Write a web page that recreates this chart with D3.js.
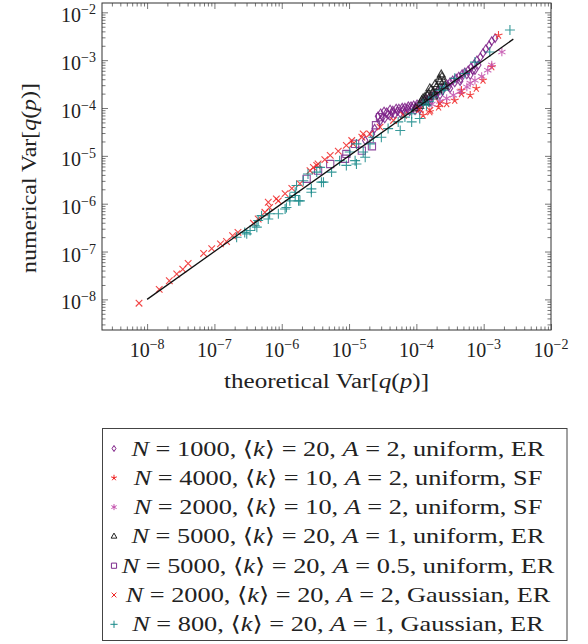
<!DOCTYPE html>
<html>
<head>
<meta charset="utf-8">
<script src="https://cdn.jsdelivr.net/npm/d3@7"></script>
<style>
  body { margin: 0; background: #fff; }
  text { font-family: "Liberation Serif", "DejaVu Serif", serif; fill: #222; }
</style>
</head>
<body>
<svg id="chart" width="588" height="644"></svg>
<script>
// all values are log10 of [theoretical Var, numerical Var]
var diamondN1000 = [
  [-4.76,-4.68],[-4.66,-4.55],[-4.62,-4.43],
  [-4.57,-4.17],[-4.53,-4.11],[-4.48,-4.07],[-4.44,-4.09],[-4.39,-4.03],[-4.35,-4.05],[-4.30,-4.01],
  [-4.26,-4.01],[-4.21,-3.99],[-4.17,-3.99],[-4.12,-3.96],[-4.08,-3.96],[-4.04,-3.94],[-3.99,-3.92],[-3.95,-3.92],
  [-4.54,-4.28],[-4.47,-4.22],[-4.39,-4.17],[-4.32,-4.13],[-4.24,-4.11],[-4.17,-4.09],[-4.10,-4.07],[-4.02,-4.05],[-3.95,-4.03],
  [-4.50,-4.19],[-4.42,-4.14],[-4.36,-4.10],[-4.28,-4.07],[-4.20,-4.04],[-4.13,-4.02],[-4.06,-4.00],[-4.00,-3.98],
  [-3.90,-3.88],[-3.86,-3.82],[-3.81,-3.78],[-3.77,-3.75],[-3.72,-3.69],[-3.68,-3.65],[-3.63,-3.59],[-3.59,-3.55],
  [-3.55,-3.50],[-3.50,-3.46],[-3.46,-3.42],[-3.41,-3.38],[-3.37,-3.34],[-3.32,-3.29],[-3.28,-3.25],[-3.23,-3.21],
  [-3.19,-3.15],[-3.14,-3.08],[-3.10,-3.00],[-3.05,-2.94],[-3.01,-2.85],[-2.97,-2.77],[-2.92,-2.69],[-2.88,-2.60],[-2.83,-2.54],
  [-3.88,-3.84],[-3.79,-3.80],[-3.70,-3.72],[-3.61,-3.64],[-3.52,-3.55],[-3.43,-3.47],[-3.34,-3.39],[-3.25,-3.30],
  [-3.16,-3.21],[-3.08,-3.10],
  [-3.80,-3.88],[-3.65,-3.73],[-3.50,-3.59],[-3.35,-3.44],[-3.20,-3.31],[-3.13,-3.21]
];
var starN4000 = [
  [-2.78,-2.48],[-2.88,-3.14],[-3.01,-3.42],[-3.11,-3.59],[-3.20,-3.73],[-3.33,-3.63],[-3.33,-3.70],
  [-3.43,-3.84],[-3.55,-3.91],[-3.67,-3.98],[-3.80,-4.08],[-3.90,-4.15]
];
var asteriskN2000 = [
  [-2.73,-2.83],[-2.88,-3.10],[-2.94,-3.21],[-3.03,-3.34],[-3.13,-3.42],[-3.20,-3.48],[-3.25,-3.56],
  [-3.35,-3.66],[-3.45,-3.73],[-3.55,-3.80],[-3.65,-3.86],[-3.77,-3.92]
];
var triangleN5000 = [
  [-3.62,-3.35],[-3.65,-3.45],[-3.60,-3.45],[-3.70,-3.56],[-3.58,-3.55],[-3.68,-3.63],[-3.75,-3.66],[-3.80,-3.59],
  [-3.82,-3.70],[-3.74,-3.76],[-3.87,-3.77],[-3.92,-3.84],[-3.86,-3.88],[-3.95,-3.96],[-4.01,-4.01],
  [-3.63,-3.30],[-3.66,-3.40],[-3.72,-3.50],[-3.78,-3.62],[-3.84,-3.74],[-3.90,-3.80]
];
var squareN5000 = [
  [-5.63,-5.48],[-5.46,-5.31],[-5.28,-5.17],[-5.06,-5.06],[-5.04,-4.96],[-4.91,-4.75],[-4.81,-4.89],
  [-4.66,-4.80],[-4.60,-4.36],[-4.54,-4.19]
];
var crossN2000 = [
  [-8.12,-8.08],[-7.82,-7.79],[-7.67,-7.61],[-7.56,-7.47],[-7.47,-7.37],[-7.39,-7.25],[-7.16,-7.04],[-7.04,-6.94],
  [-6.91,-6.84],[-6.82,-6.79],[-6.73,-6.67],[-6.65,-6.60],[-6.42,-6.41],[-6.35,-6.32],[-6.25,-6.18],[-6.20,-5.97],
  [-6.18,-6.08],[-6.08,-5.90],[-6.05,-5.94],[-5.95,-5.79],[-5.85,-5.68],[-5.73,-5.58],[-5.58,-5.31],[-5.53,-5.24],
  [-5.48,-5.20],[-5.46,-5.17],[-5.36,-5.08],[-5.28,-4.99],[-5.16,-4.90],[-5.04,-4.78],[-4.96,-4.68],[-4.94,-4.75],
  [-4.81,-4.61],[-4.79,-4.54],[-4.69,-4.54],[-4.54,-4.40],[-4.34,-4.26],[-4.19,-4.15],[-3.95,-4.03],[-3.80,-4.05],[-3.65,-3.91]
];
var plusN800 = [
  [-6.67,-6.70],[-6.55,-6.60],[-6.52,-6.63],[-6.47,-6.56],[-6.40,-6.46],[-6.37,-6.49],[-6.35,-6.35],[-6.30,-6.25],
  [-6.20,-6.32],[-6.18,-6.21],[-6.05,-6.21],[-5.95,-6.11],[-5.93,-6.08],[-5.88,-5.87],[-5.88,-5.94],[-5.80,-5.76],
  [-5.80,-5.83],[-5.78,-5.62],[-5.75,-5.94],[-5.73,-5.94],[-5.68,-5.52],[-5.61,-5.38],[-5.56,-5.69],[-5.56,-5.76],
  [-5.48,-5.34],[-5.41,-5.55],[-5.43,-5.24],[-5.38,-5.55],[-5.26,-5.34],[-5.14,-5.10],[-5.04,-5.20],[-4.99,-4.92],
  [-4.91,-5.10],[-4.89,-4.75],[-4.89,-5.17],[-4.79,-4.92],[-4.76,-5.03],[-4.69,-4.75],[-4.64,-4.61],[-4.52,-4.61],
  [-4.42,-4.43],[-4.24,-4.47],[-4.27,-4.29],[-4.17,-4.19],[-4.07,-4.12],[-4.07,-4.29],[-3.95,-4.22],[-3.90,-3.91],
  [-3.85,-3.94],[-3.82,-3.87],[-3.75,-3.77],[-3.65,-3.63],[-3.60,-3.63],[-3.58,-3.56],[-3.43,-3.38],[-3.28,-3.28],
  [-3.13,-3.04],[-2.91,-2.83],[-2.61,-2.37]
];
// theory line numerical = theoretical
var theoryLine = [[-8.0,-8.0],[-2.56,-2.56]];

var xDecades = [-8,-7,-6,-5,-4,-3,-2];
var yDecades = [-8,-7,-6,-5,-4,-3,-2];

// legend rows: [N, <k>, A, distribution, network]
var legendRows = [
  ["1000","20","2","uniform","ER"],
  ["4000","10","2","uniform","SF"],
  ["2000","10","2","uniform","SF"],
  ["5000","20","1","uniform","ER"],
  ["5000","20","0.5","uniform","ER"],
  ["2000","20","2","Gaussian","ER"],
  ["800","20","1","Gaussian","ER"]
];

var series = [
  { data: diamondN1000, shape: "diamond", color: "#7d1d86" },
  { data: starN4000, shape: "star", color: "#f02424" },
  { data: asteriskN2000, shape: "asterisk", color: "#c24dab" },
  { data: triangleN5000, shape: "triangle", color: "#1e1e1e" },
  { data: squareN5000, shape: "square", color: "#7d2a8d" },
  { data: crossN2000, shape: "cross", color: "#f02424" },
  { data: plusN800, shape: "plus", color: "#158888" }
];

function markerPath(shape, s) {
  var p = d3.path();
  if (shape == "diamond") {
    p.moveTo(0,-4.2*s); p.lineTo(2.7*s,0); p.lineTo(0,4.2*s); p.lineTo(-2.7*s,0); p.closePath();
  } else if (shape == "star") {
    for (var k = 0; k < 5; k++) {
      var a = (-90 + 72*k) * Math.PI/180;
      p.moveTo(0,0); p.lineTo(4.2*s*Math.cos(a), 4.2*s*Math.sin(a));
    }
  } else if (shape == "asterisk") {
    for (var k = 0; k < 3; k++) {
      var a = (90 + 60*k) * Math.PI/180;
      p.moveTo(-4.2*s*Math.cos(a), -4.2*s*Math.sin(a)); p.lineTo(4.2*s*Math.cos(a), 4.2*s*Math.sin(a));
    }
  } else if (shape == "triangle") {
    p.moveTo(0,-4.6*s); p.lineTo(4*s,2.4*s); p.lineTo(-4*s,2.4*s); p.closePath();
  } else if (shape == "square") {
    p.rect(-3.6*s,-3.6*s,7.2*s,7.2*s);
  } else if (shape == "cross") {
    p.moveTo(-3.3*s,-3.3*s); p.lineTo(3.3*s,3.3*s); p.moveTo(-3.3*s,3.3*s); p.lineTo(3.3*s,-3.3*s);
  } else {
    p.moveTo(-5*s,0); p.lineTo(5*s,0); p.moveTo(0,-5*s); p.lineTo(0,5*s);
  }
  return p.toString();
}

// stretch text horizontally (the TeX font is wider than the local serif)
function stretch(t, factor) {
  var w = t.node().getComputedTextLength();
  t.attr("textLength", (w * factor).toFixed(1)).attr("lengthAdjust", "spacingAndGlyphs");
  return w;
}

var svg = d3.select("#chart");
var plotLeft = 102, plotRight = 551, plotTop = 3, plotBottom = 330;

var x = d3.scaleLog().domain([Math.pow(10,-8.67), 1e-2]).range([plotLeft, plotRight]);
var y = d3.scaleLog().domain([Math.pow(10,-8.64), Math.pow(10,-1.805)]).range([plotBottom, plotTop]);

function minorTicks(scale) {
  var d = scale.domain(), out = [];
  for (var e = -10; e <= 0; e++) {
    for (var m = 2; m <= 9; m++) {
      var v = m * Math.pow(10, e);
      if (v > d[0] && v < d[1]) out.push(v);
    }
  }
  return out;
}
var xMajor = xDecades.map(e => Math.pow(10, e));
var yMajor = yDecades.map(e => Math.pow(10, e));

function tickAxis(axisFn, scale, vals, size, transform) {
  var g = svg.append("g").attr("transform", transform)
    .call(axisFn(scale).tickValues(vals).tickSize(size).tickFormat(""));
  g.select(".domain").remove();
  g.selectAll(".tick line").attr("stroke", "#555").attr("stroke-width", 0.8);
}
tickAxis(d3.axisBottom, x, minorTicks(x), -3.5, `translate(0,${plotBottom})`);
tickAxis(d3.axisBottom, x, xMajor, -6, `translate(0,${plotBottom})`);
tickAxis(d3.axisTop, x, minorTicks(x), -3.5, `translate(0,${plotTop})`);
tickAxis(d3.axisTop, x, xMajor, -6, `translate(0,${plotTop})`);
tickAxis(d3.axisLeft, y, minorTicks(y), -3.5, `translate(${plotLeft},0)`);
tickAxis(d3.axisLeft, y, yMajor, -6, `translate(${plotLeft},0)`);
tickAxis(d3.axisRight, y, minorTicks(y), -3.5, `translate(${plotRight},0)`);
tickAxis(d3.axisRight, y, yMajor, -6, `translate(${plotRight},0)`);

svg.append("rect")
  .attr("x", plotLeft).attr("y", plotTop)
  .attr("width", plotRight - plotLeft).attr("height", plotBottom - plotTop)
  .attr("fill", "none").attr("stroke", "#333").attr("stroke-width", 1);

// tick labels
xDecades.forEach(e => {
  var t = svg.append("text").attr("x", x(Math.pow(10,e))).attr("y", 357)
    .attr("text-anchor", "middle").style("font-size", "20px");
  t.append("tspan").text("10");
  t.append("tspan").attr("dy", -8).style("font-size", "14px").text("\u2212" + (-e));
});
yDecades.forEach(e => {
  var t = svg.append("text").attr("x", 96).attr("y", y(Math.pow(10,e)) + 10)
    .attr("text-anchor", "end").style("font-size", "20px");
  t.append("tspan").text("10");
  t.append("tspan").attr("dy", -8).style("font-size", "14px").text("\u2212" + (-e));
});

// axis labels
function varLabel(t, prefix) {
  t.append("tspan").text(prefix + "Var[");
  t.append("tspan").style("font-style", "italic").text("q");
  t.append("tspan").text("(");
  t.append("tspan").style("font-style", "italic").text("p");
  t.append("tspan").text(")]");
  return t;
}
var xl = varLabel(svg.append("text").attr("x", (plotLeft + plotRight)/2).attr("y", 388)
  .attr("text-anchor", "middle").style("font-size", "20px"), "theoretical ");
stretch(xl, 205 / xl.node().getComputedTextLength());
var yl = varLabel(svg.append("text").attr("transform", "translate(36,178) rotate(-90)")
  .attr("text-anchor", "middle").style("font-size", "20px"), "numerical ");
stretch(yl, 190 / yl.node().getComputedTextLength());

// markers
var plotG = svg.append("g");
series.forEach(s => {
  plotG.append("g").selectAll("path")
    .data(s.data)
    .join("path")
    .attr("transform", d => `translate(${x(Math.pow(10,d[0]))},${y(Math.pow(10,d[1]))})`)
    .attr("d", markerPath(s.shape, 1))
    .attr("fill", "none")
    .attr("stroke", s.color)
    .attr("stroke-opacity", 0.85)
    .attr("stroke-width", 1.1);
});

var line = d3.line().x(d => x(Math.pow(10,d[0]))).y(d => y(Math.pow(10,d[1])));
svg.append("path").datum(theoryLine).attr("d", line)
  .attr("fill", "none").attr("stroke", "#111").attr("stroke-width", 1.3);

// legend
var legX = 102.5, legY = 428.5, legW = 464.5, legH = 212;
svg.append("rect").attr("x", legX).attr("y", legY).attr("width", legW).attr("height", legH)
  .attr("fill", "#fff").attr("stroke", "#444").attr("stroke-width", 1);

var legendStretch = 1;
legendRows.forEach((r, i) => {
  var cy = 448.5 + i * 29.3;
  var s = series[i];
  svg.append("path").attr("transform", `translate(114,${cy})`)
    .attr("d", markerPath(s.shape, 0.72))
    .attr("fill", "none").attr("stroke", s.color).attr("stroke-width", 1);
  var t = svg.append("text").attr("x", 338).attr("y", cy + 7)
    .attr("text-anchor", "middle").style("font-size", "21px");
  t.append("tspan").style("font-style", "italic").text("N");
  t.append("tspan").text(" = " + r[0] + ", \u27E8");
  t.append("tspan").style("font-style", "italic").text("k");
  t.append("tspan").text("\u27E9 = " + r[1] + ", ");
  t.append("tspan").style("font-style", "italic").text("A");
  t.append("tspan").text(" = " + r[2] + ", " + r[3] + ", " + r[4]);
  // first row fixes the stretch for all rows
  if (i == 0) legendStretch = 413 / t.node().getComputedTextLength();
  stretch(t, legendStretch);
});
</script>
</body>
</html>
